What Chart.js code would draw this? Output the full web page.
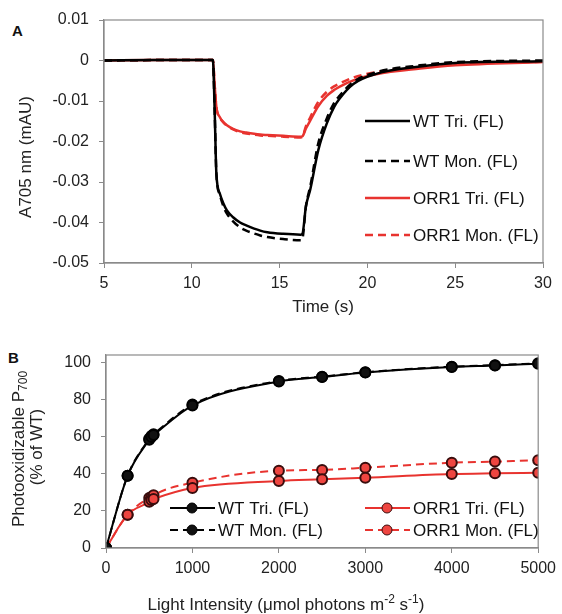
<!DOCTYPE html>
<html>
<head>
<meta charset="utf-8">
<script src="https://cdn.jsdelivr.net/npm/chart.js@4.4.1/dist/chart.umd.min.js"></script>
<style>
  body { margin: 0; background: #fff; width: 562px; height: 614px; position: relative; overflow: hidden; font-family: "Liberation Sans", Arial, sans-serif; }
  canvas { position: absolute; left: 0; }
  .tag { position: absolute; font-weight: bold; font-size: 15px; line-height: 15px; color: #111; }
</style>
</head>
<body>
<div class="tag" style="left:12px;top:23px;">A</div>
<div class="tag" style="left:8px;top:350px;">B</div>
<canvas id="chartA" width="562" height="320" style="top:0"></canvas>
<canvas id="chartB" width="562" height="294" style="top:320px"></canvas>
<script>
// panel A: A705 kinetics
var timeA = [5, 8, 11.2, 11.3, 11.4, 11.6, 11.8, 12.0, 12.35, 12.75, 13.1, 13.9, 14.3, 15.2, 16.2, 16.3, 16.5, 16.75, 17.2, 17.7, 18.1, 18.4, 19.2, 20.5, 23, 25, 30];
var wtTriA = [0, 0.0001, 0.0001, -0.012, -0.028, -0.0329, -0.0353, -0.037, -0.0387, -0.0400, -0.0407, -0.0420, -0.0424, -0.0428, -0.0430, -0.0428, -0.036, -0.0318, -0.0222, -0.0154, -0.0115, -0.0095, -0.0058, -0.0033, -0.0015, -0.0006, -0.0002];
var wtMonA = [0, 0.0001, 0.0001, -0.012, -0.028, -0.0332, -0.0360, -0.0378, -0.0397, -0.0412, -0.0420, -0.0432, -0.0436, -0.0441, -0.0444, -0.0440, -0.036, -0.0310, -0.0205, -0.0142, -0.0105, -0.0088, -0.0053, -0.0029, -0.0012, -0.0004, 0];
var orrTriA = [0, 0.0001, 0.0001, -0.006, -0.0115, -0.014, -0.0152, -0.016, -0.0169, -0.0175, -0.0178, -0.0183, -0.0184, -0.0186, -0.0188, -0.0187, -0.0168, -0.0148, -0.0113, -0.0087, -0.0073, -0.0065, -0.0049, -0.0034, -0.0020, -0.0012, -0.0004];
var orrMonA = [0, 0.0001, 0.0001, -0.006, -0.0115, -0.0141, -0.0153, -0.0161, -0.0170, -0.0177, -0.0180, -0.0185, -0.0186, -0.0188, -0.0190, -0.0188, -0.0162, -0.0140, -0.0102, -0.0077, -0.0064, -0.0057, -0.0042, -0.0029, -0.0016, -0.0009, -0.0003];

// panel B: light response
var lightB = [0, 250, 500, 525, 550, 1000, 2000, 2500, 3000, 4000, 4500, 5000];
var wtTriB = [0, 39, 58.5, 60, 61, 77, 90, 92.4, 94.8, 97.8, 98.6, 99.6];
var wtMonB = [0, 39, 59, 60.5, 61.5, 77.5, 90.3, 92.6, 95, 98, 98.8, 99.8];
var orrTriB = [0, 18, 25, 26, 26.5, 32.4, 36.2, 37.1, 38, 40, 40.4, 40.7];
var orrMonB = [0, 18, 27, 27.5, 28.5, 35.3, 41.8, 42.2, 43.4, 46.1, 46.7, 47.4];

var labels = ['WT Tri. (FL)', 'WT Mon. (FL)', 'ORR1 Tri. (FL)', 'ORR1 Mon. (FL)'];
var BLACK = '#000', RED = '#e8332f';
var FONT = '"Liberation Sans", Arial, sans-serif';
Chart.defaults.font.family = FONT;
Chart.defaults.color = '#222';

function pts(xs, ys) {
  return xs.map(function (x, i) { return { x: x, y: ys[i] }; });
}

// plot box around chart area
var boxPlugin = {
  id: 'box',
  afterDraw: function (chart) {
    var a = chart.chartArea, ctx = chart.ctx;
    ctx.save();
    ctx.strokeStyle = '#8a8a8a';
    ctx.lineWidth = 1.2;
    ctx.strokeRect(a.left, a.top, a.right - a.left, a.bottom - a.top);
    ctx.restore();
  }
};

// legend drawn inside the plot
function legendPlugin(spots) {
  return {
    id: 'inlegend',
    afterDraw: function (chart) {
      var ctx = chart.ctx;
      chart.data.datasets.forEach(function (ds, i) {
        var s = spots[i];
        ctx.save();
        ctx.strokeStyle = ds.borderColor;
        ctx.lineWidth = ds.borderWidth;
        ctx.setLineDash(ds.borderDash || []);
        ctx.beginPath();
        ctx.moveTo(s.x, s.y);
        ctx.lineTo(s.x + 45, s.y);
        ctx.stroke();
        ctx.setLineDash([]);
        if (ds.pointRadius > 0) {
          ctx.fillStyle = ds.pointBackgroundColor;
          ctx.strokeStyle = ds.pointBorderColor;
          ctx.lineWidth = 1;
          ctx.beginPath();
          ctx.arc(s.x + 22, s.y, ds.pointRadius, 0, Math.PI * 2);
          ctx.fill();
          ctx.stroke();
        }
        ctx.fillStyle = '#111';
        ctx.font = '17px ' + FONT;
        ctx.textBaseline = 'middle';
        ctx.fillText(ds.label, s.x + 48, s.y + 1);
        ctx.restore();
      });
    }
  };
}

// axis titles with sub/superscripts: runs of {t, mode}
function titlePlugin(items) {
  return {
    id: 'titles',
    afterDraw: function (chart) {
      var ctx = chart.ctx;
      items.forEach(function (it) {
        ctx.save();
        ctx.translate(it.x, it.y);
        if (it.rotate) ctx.rotate(-Math.PI / 2);
        ctx.fillStyle = '#222';
        ctx.textBaseline = 'middle';
        var w = 0;
        it.runs.forEach(function (r) {
          ctx.font = (r.mode ? 12 : 17) + 'px ' + FONT;
          w += ctx.measureText(r.t).width;
        });
        var cx = -w / 2;
        it.runs.forEach(function (r) {
          ctx.font = (r.mode ? 12 : 17) + 'px ' + FONT;
          var dy = r.mode === 'sub' ? 5 : (r.mode === 'sup' ? -5 : 0);
          ctx.fillText(r.t, cx, dy);
          cx += ctx.measureText(r.t).width;
        });
        ctx.restore();
      });
    }
  };
}

var axisGrid = { display: true, drawOnChartArea: false, drawTicks: true, tickLength: 5, color: '#8a8a8a' };
var axisBorder = { display: true, color: '#8a8a8a', width: 1.2 };

new Chart(document.getElementById('chartA'), {
  type: 'line',
  data: {
    datasets: [
      { label: labels[0], data: pts(timeA, wtTriA), borderColor: BLACK, borderWidth: 2.5 },
      { label: labels[1], data: pts(timeA, wtMonA), borderColor: BLACK, borderWidth: 2.5, borderDash: [8, 5] },
      { label: labels[2], data: pts(timeA, orrTriA), borderColor: RED, borderWidth: 2.5 },
      { label: labels[3], data: pts(timeA, orrMonA), borderColor: RED, borderWidth: 2.5, borderDash: [8, 5] }
    ]
  },
  options: {
    responsive: false,
    animation: false,
    layout: { padding: { top: 20, right: 19, left: 0, bottom: 0 } },
    elements: { point: { radius: 0 }, line: { tension: 0.3, cubicInterpolationMode: 'monotone' } },
    plugins: { legend: { display: false }, tooltip: { enabled: false } },
    scales: {
      x: {
        type: 'linear', min: 5, max: 30,
        ticks: { stepSize: 5, font: { size: 16 }, color: '#222', padding: 6 },
        grid: axisGrid, border: axisBorder,
        afterFit: function (s) { s.height = 57; }
      },
      y: {
        min: -0.05, max: 0.01,
        ticks: {
          stepSize: 0.01, font: { size: 16 }, color: '#222', padding: 10,
          callback: function (v) { var r = Math.round(v * 100) / 100; return r === 0 ? '0' : r.toFixed(2); }
        },
        grid: axisGrid, border: axisBorder,
        afterFit: function (s) { s.width = 104; }
      }
    }
  },
  plugins: [boxPlugin, legendPlugin([
    { x: 365, y: 121 }, { x: 365, y: 161 }, { x: 365, y: 198 }, { x: 365, y: 235 }
  ]), titlePlugin([
    { x: 323, y: 307, runs: [{ t: 'Time (s)' }] },
    { x: 26, y: 157, rotate: true, runs: [{ t: 'A705 nm (mAU)' }] }
  ])]
});

new Chart(document.getElementById('chartB'), {
  type: 'line',
  data: {
    datasets: [
      { label: labels[0], data: pts(lightB, wtTriB), borderColor: BLACK, borderWidth: 2, pointRadius: 5, pointBackgroundColor: '#111', pointBorderColor: '#000' },
      { label: labels[1], data: pts(lightB, wtMonB), borderColor: BLACK, borderWidth: 2, borderDash: [8, 5], pointRadius: 5, pointBackgroundColor: '#111', pointBorderColor: '#000' },
      { label: labels[2], data: pts(lightB, orrTriB), borderColor: RED, borderWidth: 2, pointRadius: 5, pointBackgroundColor: '#ee4540', pointBorderColor: '#3a0d0d' },
      { label: labels[3], data: pts(lightB, orrMonB), borderColor: RED, borderWidth: 2, borderDash: [8, 5], pointRadius: 5, pointBackgroundColor: '#ee4540', pointBorderColor: '#3a0d0d' }
    ]
  },
  options: {
    responsive: false,
    animation: false,
    layout: { padding: { top: 35, right: 19, left: 0, bottom: 0 } },
    elements: { point: { borderWidth: 1 }, line: { tension: 0.4, cubicInterpolationMode: 'monotone' } },
    plugins: { legend: { display: false }, tooltip: { enabled: false } },
    scales: {
      x: {
        type: 'linear', min: 0, max: 5000,
        ticks: { stepSize: 1000, font: { size: 16 }, color: '#222', padding: 6, callback: function (v) { return String(v); } },
        grid: axisGrid, border: axisBorder,
        afterFit: function (s) { s.height = 66; }
      },
      y: {
        min: 0, max: 104.3,
        afterBuildTicks: function (s) { s.ticks = [0, 20, 40, 60, 80, 100].map(function (v) { return { value: v }; }); },
        ticks: { font: { size: 16 }, color: '#222', padding: 10 },
        grid: axisGrid, border: axisBorder,
        afterFit: function (s) { s.width = 106; }
      }
    }
  },
  plugins: [boxPlugin, legendPlugin([
    { x: 170, y: 188 }, { x: 170, y: 210 }, { x: 365, y: 188 }, { x: 365, y: 210 }
  ]), titlePlugin([
    { x: 286, y: 285, runs: [{ t: 'Light Intensity (\u03bcmol photons m' }, { t: '-2', mode: 'sup' }, { t: ' s' }, { t: '-1', mode: 'sup' }, { t: ')' }] },
    { x: 19, y: 129, rotate: true, runs: [{ t: 'Photooxidizable P' }, { t: '700', mode: 'sub' }] },
    { x: 37, y: 127, rotate: true, runs: [{ t: '(% of WT)' }] }
  ])]
});
</script>
</body>
</html>
